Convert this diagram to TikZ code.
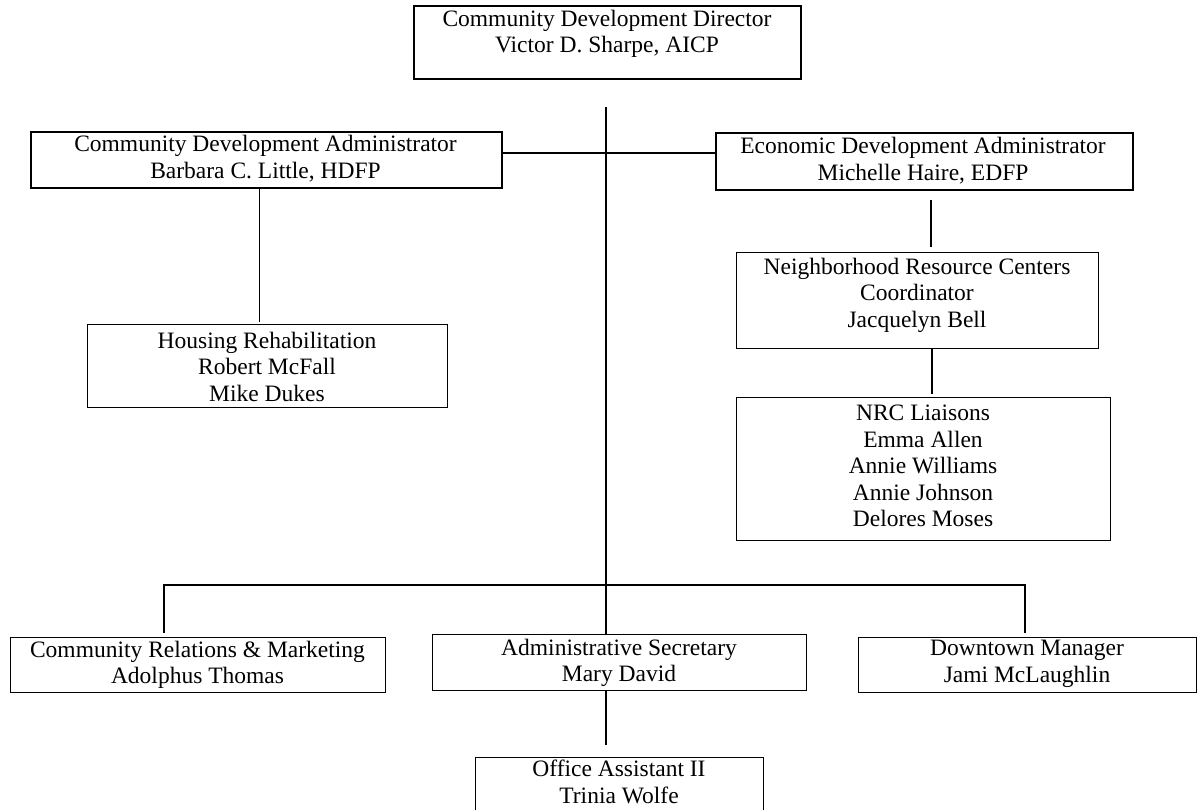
\documentclass[tikz,border=0pt]{standalone}
\usepackage{fontspec}
\setmainfont{Liberation Serif}
\begin{document}
\begin{tikzpicture}[x=1pt,y=-1pt,
  thickbox/.style={draw, line width=2pt, inner sep=0pt, anchor=north west},
  thinbox/.style={draw, line width=1pt, inner sep=0pt, anchor=north west},
  lbl/.style={align=center, inner sep=0pt, font=\fontsize{23.5}{26.5}\selectfont},
  link/.style={line width=1.5pt},
  heavylink/.style={line width=2pt},
  lightlink/.style={line width=1pt}]
\useasboundingbox[fill=white] (0,0) rectangle (1204,809);

% boxes
\node[thickbox, minimum width=387pt, minimum height=73pt] (top) at (413,5) {};
\node[thickbox, minimum width=471pt, minimum height=56pt] (cda) at (30,131) {};
\node[thickbox, minimum width=417pt, minimum height=57pt] (eda) at (715,132) {};
\node[thinbox, minimum width=360pt, minimum height=83pt] (housing) at (87,324) {};
\node[thinbox, minimum width=362pt, minimum height=96pt] (coord) at (736,252) {};
\node[thinbox, minimum width=374pt, minimum height=143pt] (liaisons) at (736,397) {};
\node[thinbox, minimum width=375pt, minimum height=55pt] (cr) at (10,637) {};
\node[thinbox, minimum width=374pt, minimum height=56pt] (admin) at (432,634) {};
\node[thinbox, minimum width=338pt, minimum height=55pt] (downtown) at (858,637) {};
\node[thinbox, minimum width=288pt, minimum height=56pt] (office) at (475,757) {};

% texts
\node[lbl] (topT) at (607,34) {Community Development Director\\Victor D. Sharpe, AICP};
\node[lbl] (cdaT) at (265.5,158.5) {Community Development Administrator\\Barbara C. Little, HDFP};
\node[lbl] (edaT) at (923,160.5) {Economic Development Administrator\\Michelle Haire, EDFP};
\node[lbl] (housingT) at (267,366.5) {Housing Rehabilitation\\Robert McFall\\Mike Dukes};
\node[lbl] (coordT) at (917,295) {Neighborhood Resource Centers\\Coordinator\\Jacquelyn Bell};
\node[lbl] (liaisonsT) at (923,466) {NRC Liaisons\\Emma Allen\\Annie Williams\\Annie Johnson\\Delores Moses};
\node[lbl] (crT) at (197.5,665) {Community Relations \& Marketing\\Adolphus Thomas};
\node[lbl] (adminT) at (619,663) {Administrative Secretary\\Mary David};
\node[lbl] (downtownT) at (1027,664) {Downtown Manager\\Jami McLaughlin};
\node[lbl] (officeT) at (619,782) {Office Assistant II\\Trinia Wolfe};

% helper coordinates
\coordinate (trunk) at (606,107);
\coordinate (hl) at (606,153);
\coordinate (hx) at (259,0);
\coordinate (ex) at (931,0);
\coordinate (ex2) at (932,0);
\coordinate (thk) at (643,153);
\coordinate (busL) at (164,585);
\coordinate (busR) at (1025,585);

% connectors
\draw[link] (trunk) -- (trunk |- admin.north);
\draw[link] (hl -| cda.east) -- (hl -| eda.west);
\draw[heavylink] (thk) -- (hl -| eda.west);
\draw[lightlink] (cda.south -| hx) -- ([yshift=2pt]housing.north -| hx);
\draw[heavylink] ([yshift=-9pt]eda.south -| ex) -- ([yshift=5pt]coord.north -| ex);
\draw[heavylink] (coord.south -| ex2) -- ([yshift=3pt]liaisons.north -| ex2);
\draw[link] ([yshift=4pt]cr.north -| busL) -- (busL) -- (busR) -- ([yshift=4pt]downtown.north -| busR);
\draw[link] (admin.south -| trunk) -- ([yshift=12pt]office.north -| trunk);
\end{tikzpicture}
\end{document}
